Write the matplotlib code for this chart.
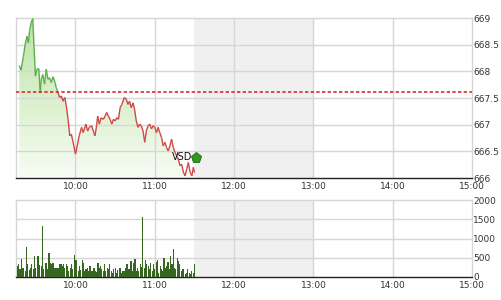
import numpy as np
import matplotlib
matplotlib.use("Agg")
import matplotlib.pyplot as plt
from matplotlib.collections import LineCollection
from matplotlib.path import Path
from matplotlib.patches import PathPatch
from matplotlib.colors import LinearSegmentedColormap

# ---------------- data ----------------
# price: minutes after 09:00 and index value
price_minutes = [17.5, 18.8, 20.6, 22.1, 23.4, 24.4, 25.2, 26.4, 27.7, 28.5,
                 29.7, 30.8, 32.3, 33.3, 34.1, 35.3, 36.6, 37.9, 39.2, 40.4,
                 41.7, 43.0, 44.2, 45.5, 46.8, 48.0, 49.3, 50.6, 51.9, 53.1,
                 54.4, 55.7, 56.9, 58.2, 60.0, 61.3, 62.8, 64.6, 65.8, 67.9,
                 69.2, 70.4, 72.2, 73.5, 74.7, 76.0, 76.8, 78.1, 79.3, 81.1,
                 82.4, 83.6, 84.9, 86.2, 87.5, 88.7, 90.0, 91.3, 92.5, 93.8,
                 95.1, 96.9, 98.4, 99.7, 100.9, 102.2, 103.5, 104.7, 106.0, 107.3,
                 108.6, 109.8, 111.1, 112.4, 113.6, 114.9, 116.2, 117.5, 118.7, 120.0,
                 121.3, 122.5, 123.8, 125.1, 126.4, 127.6, 128.9, 130.2, 131.4, 132.7,
                 134.0, 135.3, 136.5, 137.8, 139.1, 140.3, 141.6, 142.9, 144.2, 145.4,
                 146.7, 148.0, 149.2, 150.0]
price_values = [668.11, 668.02, 668.28, 668.53, 668.66, 668.53, 668.75, 668.91, 668.99, 668.53,
                667.91, 668.04, 668.05, 667.60, 667.85, 667.94, 667.76, 668.04, 667.85, 667.88,
                667.79, 667.90, 667.82, 667.69, 667.60, 667.51, 667.54, 667.44, 667.51, 667.35,
                667.10, 666.79, 666.82, 666.67, 666.45, 666.60, 666.79, 666.95, 666.85, 667.01,
                666.88, 666.95, 666.98, 666.88, 666.79, 666.98, 667.16, 667.01, 667.13, 667.10,
                667.16, 667.23, 667.16, 667.10, 667.01, 667.10, 667.07, 667.13, 667.10, 667.32,
                667.38, 667.51, 667.48, 667.38, 667.44, 667.32, 667.41, 667.29, 667.07, 666.95,
                667.01, 666.98, 666.88, 666.67, 666.88, 666.98, 667.01, 666.92, 666.98, 666.95,
                666.85, 666.95, 666.85, 666.76, 666.60, 666.67, 666.57, 666.51, 666.60, 666.73,
                666.57, 666.48, 666.42, 666.35, 666.23, 666.26, 666.11, 666.04, 666.17, 666.29,
                666.11, 666.04, 666.20, 666.10]
reference_price = 667.62

volume_start_minute = 16  # 09:16, one bar per minute
volume_values = [280, 330, 200, 460, 240, 240, 150, 780, 330, 180,
                 240, 330, 200, 550, 240, 550, 550, 300, 290, 1330,
                 200, 375, 375, 200, 635, 375, 330, 375, 240, 240,
                 240, 240, 330, 350, 290, 330, 240, 350, 290, 150,
                 240, 330, 200, 580, 450, 435, 160, 290, 180, 435,
                 375, 150, 200, 240, 160, 290, 150, 160, 240, 160,
                 130, 375, 240, 290, 200, 150, 330, 160, 240, 200,
                 330, 160, 110, 200, 240, 110, 175, 240, 240, 110,
                 160, 160, 240, 330, 200, 200, 420, 160, 375, 460,
                 160, 240, 160, 330, 250, 1550, 240, 435, 330, 290,
                 200, 375, 160, 330, 200, 400, 435, 110, 290, 200,
                 160, 490, 240, 290, 400, 200, 550, 330, 720, 240,
                 200, 505, 420, 330, 160, 200, 200, 70, 110, 200,
                 110, 70, 160, 110, 330]

time_tick_labels = ["10:00", "11:00", "12:00", "13:00", "14:00", "15:00"]
session_start, session_end = "09:15", "15:00"
lunch_start, lunch_end = "11:30", "13:00"
price_ticks = [666, 666.5, 667, 667.5, 668, 668.5, 669]
price_tick_labels = ["666", "666.5", "667", "667.5", "668", "668.5", "669"]
volume_ticks = [0, 500, 1000, 1500, 2000]
volume_tick_labels = ["0", "500", "1000", "1500", "2000"]
marker_label = "VSD"
marker_minute, marker_price = 141, 666.40
icon_minute, icon_price = 151, 666.37


def to_min(s):
    h, m = s.split(":")
    return (int(h) - 9) * 60 + int(m)


tick_pos = [to_min(s) for s in time_tick_labels]
x0, x1 = to_min(session_start), to_min(session_end)
l0, l1 = to_min(lunch_start), to_min(lunch_end)

# ---------------- figure ----------------
W, H = 501, 300
fig = plt.figure(figsize=(W / 100, H / 100), dpi=100)
fig.patch.set_facecolor("white")
ax1 = fig.add_axes([16 / W, 1 - 178 / H, (472 - 16) / W, 160 / H])
ax2 = fig.add_axes([16 / W, 1 - 277 / H, (472 - 16) / W, 77 / H])

GRID = "#d6d6d6"
LBL = "#333333"

for ax in (ax1, ax2):
    ax.set_xlim(x0, x1)
    ax.axvspan(l0, l1, color="#f0f0f0", zorder=0, lw=0)
    for t in tick_pos[:-1]:
        ax.axvline(t, color=GRID, lw=1.0, zorder=1.5)
    for sp in ("top", "left", "right"):
        ax.spines[sp].set_color(GRID)
        ax.spines[sp].set_linewidth(1.0)
    ax.spines["bottom"].set_color("#222222")
    ax.spines["bottom"].set_linewidth(1.0)
    ax.yaxis.tick_right()
    ax.set_xticks(tick_pos)
    ax.set_xticklabels(time_tick_labels)
    ax.tick_params(axis="x", length=0, pad=3, labelsize=6.5, colors=LBL)
    ax.tick_params(axis="y", length=0, pad=1, labelsize=6.5, colors=LBL)

# ---- top price panel ----
ax1.set_ylim(price_ticks[0], price_ticks[-1])
ax1.set_yticks(price_ticks)
ax1.set_yticklabels(price_tick_labels)
for p in price_ticks[1:-1]:
    ax1.axhline(p, color=GRID, lw=1.0, zorder=1.5)

pm = np.array(price_minutes)
pv = np.array(price_values)

# gradient fill under the line
cmap = LinearSegmentedColormap.from_list("g", ["#f7fcf4", "#bde3a5"])
grad = np.linspace(1, 0, 256).reshape(-1, 1)
im = ax1.imshow(grad, extent=[x0, x1, price_ticks[0], price_ticks[-1]],
                aspect="auto", cmap=cmap, origin="upper", zorder=1)
verts = np.vstack([[pm[0], price_ticks[0]], np.column_stack([pm, pv]),
                   [pm[-1], price_ticks[0]], [pm[0], price_ticks[0]]])
clip = PathPatch(Path(verts), transform=ax1.transData, facecolor="none",
                 edgecolor="none")
ax1.add_patch(clip)
im.set_clip_path(clip)

# line coloured by side of reference
xs, ys = [pm[0]], [pv[0]]
for i in range(1, len(pm)):
    a, b = pv[i - 1] - reference_price, pv[i] - reference_price
    if a * b < 0:
        f = a / (a - b)
        xs.append(pm[i - 1] + f * (pm[i] - pm[i - 1]))
        ys.append(reference_price)
    xs.append(pm[i])
    ys.append(pv[i])
xs, ys = np.array(xs), np.array(ys)
segs, cols = [], []
for i in range(1, len(xs)):
    segs.append([(xs[i - 1], ys[i - 1]), (xs[i], ys[i])])
    mid = (ys[i - 1] + ys[i]) / 2
    cols.append("#5cb04a" if mid >= reference_price else "#d04848")
ax1.add_collection(LineCollection(segs, colors=cols, linewidths=1.0, zorder=3))

ax1.axhline(reference_price, color="#dd2a2a", lw=1.2, ls=(0, (2, 1.4)), zorder=4)

ax1.text(marker_minute, marker_price, marker_label, fontsize=7, color="#111111",
         ha="center", va="center", zorder=5)
ax1.plot([icon_minute], [icon_price], marker="p", markersize=8,
         color="#2f9a1e", markeredgecolor="#1d6610", markeredgewidth=0.6, zorder=5)

# ---- bottom volume panel ----
vm = volume_start_minute + np.arange(len(volume_values))
ax2.set_ylim(volume_ticks[0], volume_ticks[-1])
ax2.set_yticks(volume_ticks)
ax2.set_yticklabels(volume_tick_labels)
for v in volume_ticks[1:-1]:
    ax2.axhline(v, color=GRID, lw=1.0, zorder=1.5)
ax2.bar(vm, volume_values, width=0.85, color="#36661f", edgecolor="none",
        linewidth=0, zorder=3)

fig.savefig("out.png", dpi=100)
